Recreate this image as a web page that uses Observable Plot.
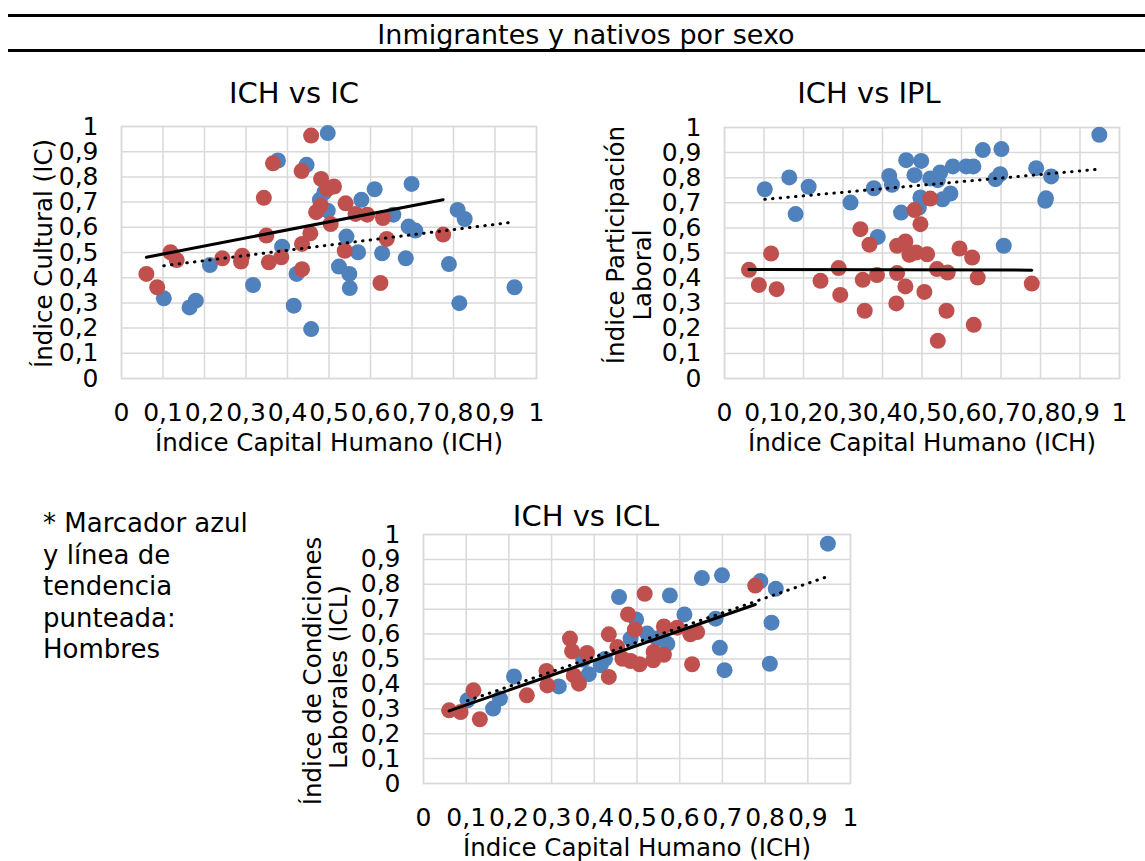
<!DOCTYPE html>
<html>
<head>
<meta charset="utf-8">
<script src="https://cdn.jsdelivr.net/npm/d3@7"></script>
<script src="https://cdn.jsdelivr.net/npm/@observablehq/plot@0.6"></script>
<style>
  html, body { margin: 0; padding: 0; background: #fff; }
  #root { position: relative; width: 1145px; height: 861px; font-family: "DejaVu Sans", Verdana, sans-serif; color: #000; overflow: hidden; }
  .rule { position: absolute; left: 8px; right: 0; height: 2.5px; background: #000; }
  #title { position: absolute; left: 0; width: 1172px; top: 21px; text-align: center; font-size: 27px; line-height: 27px; }
  #note { position: absolute; left: 43px; top: 508px; font-size: 26px; line-height: 31.5px; }
  .panel { position: absolute; }
</style>
</head>
<body>
<div id="root">
  <div class="rule" style="top:14px"></div>
  <div id="title">Inmigrantes y nativos por sexo</div>
  <div class="rule" style="top:49px"></div>
  <div id="note">* Marcador azul<br>y línea de<br>tendencia<br>punteada:<br>Hombres</div>
</div>
<script>
// ---- data ----
const xTicks = [0, 0.1, 0.2, 0.3, 0.4, 0.5, 0.6, 0.7, 0.8, 0.9, 1];
const yTicks = [0, 0.1, 0.2, 0.3, 0.4, 0.5, 0.6, 0.7, 0.8, 0.9, 1];

// ICH vs IC
const icHombres = [[0.102,0.318],[0.164,0.282],[0.179,0.309],[0.213,0.450],[0.317,0.371],[0.377,0.865],[0.387,0.523],[0.415,0.289],[0.422,0.415],[0.446,0.848],[0.457,0.196],[0.478,0.709],[0.489,0.739],[0.497,0.974],[0.497,0.666],[0.524,0.444],[0.542,0.563],[0.549,0.415],[0.550,0.359],[0.570,0.501],[0.578,0.709],[0.610,0.751],[0.628,0.497],[0.655,0.650],[0.685,0.477],[0.692,0.603],[0.699,0.772],[0.708,0.587],[0.789,0.454],[0.810,0.669],[0.814,0.299],[0.827,0.633],[0.947,0.362]];
const icMujeres = [[0.060,0.415],[0.086,0.362],[0.118,0.501],[0.133,0.470],[0.243,0.477],[0.288,0.464],[0.291,0.487],[0.343,0.717],[0.349,0.567],[0.355,0.461],[0.365,0.854],[0.385,0.481],[0.434,0.823],[0.435,0.534],[0.435,0.434],[0.455,0.576],[0.457,0.964],[0.469,0.660],[0.480,0.686],[0.481,0.792],[0.496,0.752],[0.504,0.613],[0.512,0.762],[0.538,0.507],[0.540,0.695],[0.564,0.653],[0.592,0.650],[0.624,0.379],[0.630,0.637],[0.639,0.554],[0.775,0.571]];

// ICH vs IPL
const iplHombres = [[0.102,0.754],[0.164,0.801],[0.180,0.655],[0.213,0.764],[0.319,0.701],[0.378,0.758],[0.388,0.564],[0.417,0.807],[0.424,0.772],[0.447,0.661],[0.460,0.870],[0.481,0.810],[0.492,0.681],[0.496,0.721],[0.498,0.867],[0.521,0.797],[0.540,0.790],[0.546,0.821],[0.552,0.714],[0.572,0.737],[0.578,0.845],[0.612,0.845],[0.630,0.845],[0.654,0.910],[0.686,0.794],[0.698,0.814],[0.701,0.914],[0.707,0.529],[0.789,0.838],[0.812,0.708],[0.814,0.718],[0.827,0.805],[0.949,0.971]];
const iplMujeres = [[0.062,0.433],[0.087,0.373],[0.118,0.498],[0.132,0.356],[0.243,0.389],[0.289,0.440],[0.293,0.333],[0.344,0.595],[0.350,0.393],[0.355,0.270],[0.367,0.533],[0.386,0.412],[0.435,0.299],[0.437,0.529],[0.437,0.420],[0.458,0.546],[0.458,0.367],[0.468,0.493],[0.481,0.671],[0.485,0.502],[0.496,0.615],[0.506,0.345],[0.513,0.495],[0.521,0.717],[0.538,0.436],[0.540,0.150],[0.562,0.270],[0.565,0.422],[0.595,0.518],[0.627,0.482],[0.631,0.214],[0.641,0.402],[0.778,0.378]];

// ICH vs ICL
const iclHombres = [[0.103,0.334],[0.163,0.301],[0.179,0.341],[0.212,0.430],[0.317,0.390],[0.374,0.497],[0.387,0.439],[0.415,0.475],[0.425,0.500],[0.458,0.749],[0.485,0.582],[0.498,0.659],[0.524,0.602],[0.547,0.582],[0.571,0.561],[0.577,0.755],[0.611,0.679],[0.652,0.825],[0.684,0.662],[0.694,0.545],[0.699,0.836],[0.705,0.455],[0.789,0.813],[0.811,0.481],[0.815,0.646],[0.825,0.782],[0.947,0.963]];
const iclMujeres = [[0.060,0.294],[0.087,0.287],[0.117,0.374],[0.132,0.258],[0.242,0.354],[0.288,0.452],[0.290,0.394],[0.343,0.582],[0.348,0.531],[0.352,0.434],[0.364,0.401],[0.383,0.524],[0.434,0.599],[0.434,0.428],[0.454,0.548],[0.466,0.501],[0.479,0.679],[0.485,0.492],[0.495,0.618],[0.506,0.479],[0.518,0.762],[0.538,0.495],[0.539,0.528],[0.563,0.517],[0.563,0.631],[0.594,0.626],[0.625,0.599],[0.629,0.479],[0.641,0.608],[0.777,0.795]];

const xLabel = "Índice Capital Humano (ICH)";

// ---- drawing ----
const BLUE = "#4F81BD", RED = "#C0504D", GRID = "#d9d9d9";
const fmt = d => String(d).replace(".", ",");
const px = d => d[0], py = d => d[1];

function panel(cfg) {
  const marks = [
    Plot.gridX(xTicks, {stroke: GRID, strokeOpacity: 1, strokeWidth: 1.5}),
    Plot.gridY(yTicks, {stroke: GRID, strokeOpacity: 1, strokeWidth: 1.5}),
    Plot.frame({stroke: GRID, strokeWidth: 1.5}),
    Plot.axisX(xTicks, {tickFormat: fmt, tickSize: 0, tickPadding: 25, label: null, fill: "#000", fontSize: 25}),
    Plot.axisY(yTicks, {tickFormat: fmt, tickSize: 0, tickPadding: 23, label: null, fill: "#000", fontSize: 25}),
    Plot.dot(cfg.hombres, {x: px, y: py, r: 8, fill: BLUE}),
    Plot.dot(cfg.mujeres, {x: px, y: py, r: 8, fill: RED}),
    Plot.linearRegressionY(cfg.mujeres, {x: px, y: py, stroke: "#000", strokeWidth: 3, ci: 0}),
    Plot.linearRegressionY(cfg.hombres, {x: px, y: py, stroke: "#000", strokeWidth: 3, strokeDasharray: "0.5,7.2", strokeLinecap: "round", ci: 0}),
    Plot.text([cfg.title], {text: d => d, frameAnchor: "top", dx: cfg.titleDx, dy: cfg.titleDy, lineAnchor: "middle", fontSize: 29, fill: "#000"}),
    Plot.text([xLabel], {text: d => d, frameAnchor: "bottom", dy: 65, lineAnchor: "middle", fontSize: 24.5, fill: "#000"})
  ];
  for (const yl of cfg.yLabels) {
    marks.push(Plot.text([yl.text], {text: d => d, frameAnchor: "left", rotate: -90, dx: yl.dx, dy: yl.dy, lineAnchor: "middle", textAnchor: "middle", fontSize: 24.5, fill: "#000"}));
  }
  const svg = Plot.plot({
    width: cfg.width, height: cfg.height,
    marginLeft: cfg.ml, marginRight: cfg.mr, marginTop: cfg.mt, marginBottom: cfg.mb,
    x: {domain: [0, 1]}, y: {domain: [0, 1]},
    style: {fontFamily: "'DejaVu Sans', Verdana, sans-serif", fontSize: "24px", color: "#000", background: "transparent", overflow: "visible"},
    marks
  });
  svg.classList.add("panel");
  svg.style.left = cfg.left + "px";
  svg.style.top = cfg.top + "px";
  document.getElementById("root").appendChild(svg);
}

panel({
  hombres: icHombres, mujeres: icMujeres, title: "ICH vs IC", titleDx: -35, titleDy: -33,
  left: 0, top: 60, width: 560, height: 410, ml: 121, mr: 24, mt: 66, mb: 92,
  yLabels: [{text: "Índice Cultural (IC)", dx: -77, dy: 1}]
});
panel({
  hombres: iplHombres, mujeres: iplMujeres, title: "ICH vs IPL", titleDx: -53, titleDy: -34,
  left: 580, top: 60, width: 565, height: 410, ml: 144, mr: 26, mt: 67, mb: 92,
  yLabels: [{text: "Índice Participación", dx: -108, dy: -8}, {text: "Laboral", dx: -81, dy: 22}]
});
panel({
  hombres: iclHombres, mujeres: iclMujeres, title: "ICH vs ICL", titleDx: -51, titleDy: -18,
  left: 280, top: 480, width: 580, height: 381, ml: 143, mr: 10, mt: 54, mb: 78,
  yLabels: [{text: "Índice de Condiciones", dx: -110, dy: 12}, {text: "Laborales (ICL)", dx: -84, dy: 18}]
});
</script>
</body>
</html>
